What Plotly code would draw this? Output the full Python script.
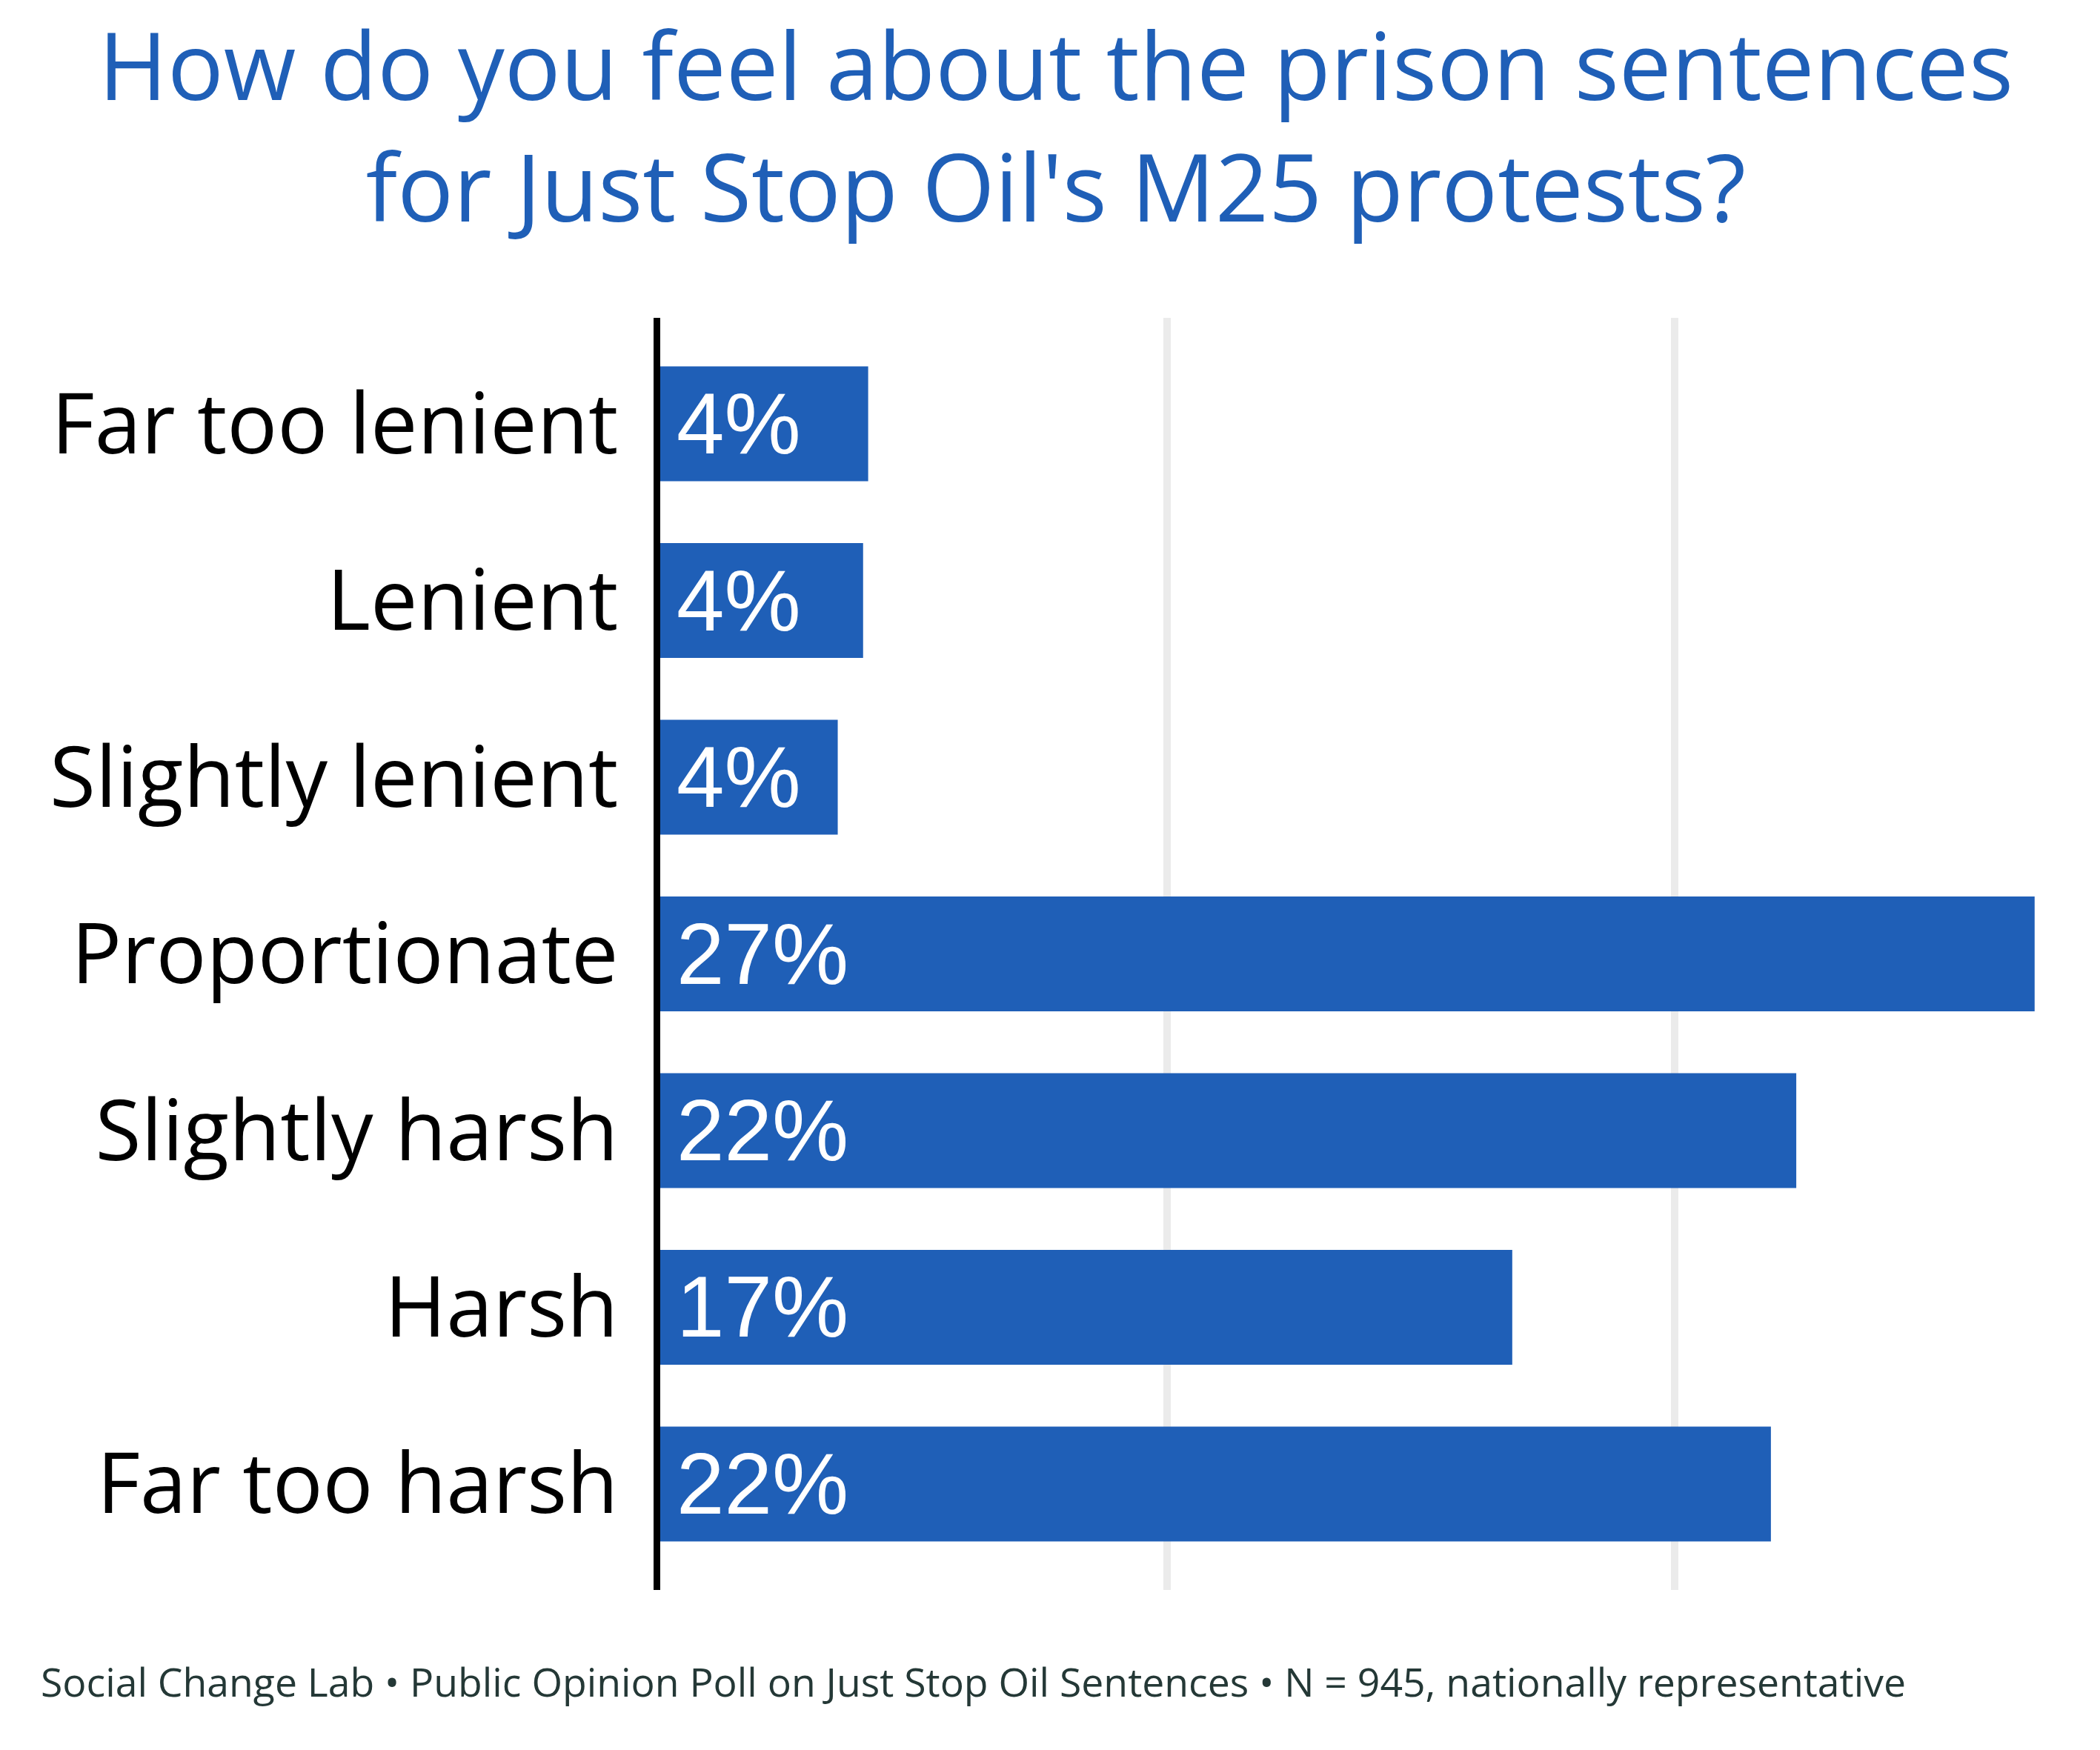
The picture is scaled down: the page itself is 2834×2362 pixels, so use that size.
import plotly.graph_objects as go

# Poll answers, top to bottom
categories = ["Far too lenient", "Lenient", "Slightly lenient", "Proportionate",
              "Slightly harsh", "Harsh", "Far too harsh"]
shares = [4.1, 4.0, 3.5, 27.1, 22.4, 16.8, 21.9]
share_labels = ["4%", "4%", "4%", "27%", "22%", "17%", "22%"]
grid_ticks = [10, 20]

title_lines = ["How do you feel about the prison sentences",
               "for Just Stop Oil's M25 protests?"]
footer = ("Social Change Lab \u2022 Public Opinion Poll on Just Stop Oil Sentences "
          "\u2022 N = 945, nationally representative")

BLUE = "#1f5fb7"
FONT = "Open Sans"

W, H = 2834, 2362
M_L, M_R, M_T, M_B = 883, 62, 421, 224
plot_w = W - M_L - M_R
plot_h = H - M_T - M_B


def paper_x(px):
    return (px - M_L) / plot_w


def paper_y(px):
    # pixel from top of figure -> paper coordinate
    return (H - M_B - px) / plot_h


fig = go.Figure()
fig.add_trace(go.Bar(
    x=shares,
    y=categories,
    orientation="h",
    marker=dict(color=BLUE, line=dict(width=0)),
    hoverinfo="skip",
))

annotations = []
for cat, lab in zip(categories, share_labels):
    annotations.append(dict(
        x=0, y=cat, xref="x", yref="y",
        text=lab, showarrow=False,
        xanchor="left", yanchor="middle", xshift=20,
        font=dict(family="Liberation Sans, Arial", size=116, color="white"),
    ))

# title, two centred lines
annotations.append(dict(
    x=paper_x(W / 2), y=paper_y(160), xref="paper", yref="paper",
    xanchor="center", yanchor="middle",
    text="<br>".join(title_lines), showarrow=False,
    font=dict(family=FONT, size=126, color=BLUE),
))

annotations.append(dict(
    x=paper_x(45), y=paper_y(2261), xref="paper", yref="paper",
    xanchor="left", yanchor="middle",
    text=footer, showarrow=False,
    font=dict(family=FONT, size=53.5, color="#243836"),
))

fig.update_layout(
    width=W, height=H,
    margin=dict(l=M_L, r=M_R, t=M_T, b=M_B),
    paper_bgcolor="white",
    plot_bgcolor="white",
    bargap=0.35,
    showlegend=False,
    annotations=annotations,
    xaxis=dict(
        range=[0, 27.6],
        tickvals=grid_ticks,
        showticklabels=False,
        showgrid=True,
        gridcolor="#ebebeb",
        gridwidth=10,
        zeroline=False,
        showline=False,
        ticks="",
    ),
    yaxis=dict(
        type="category",
        range=[6.6, -0.6],
        showgrid=False,
        showline=True,
        linecolor="black",
        linewidth=9,
        ticks="",
        ticklabelstandoff=25,
        tickfont=dict(family=FONT, size=113, color="black"),
    ),
)

fig.write_html("out.html")
